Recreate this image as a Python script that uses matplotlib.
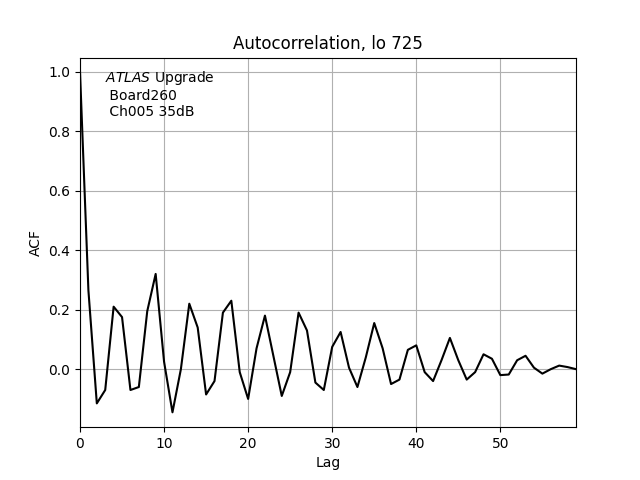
import matplotlib
matplotlib.use("Agg")
import matplotlib.pyplot as plt
import numpy as np

lags = list(range(60))
acf = [1.0, 0.265, -0.115, -0.07, 0.21, 0.175, -0.07, -0.06, 0.195, 0.32,
       0.025, -0.145, 0.0, 0.22, 0.14, -0.085, -0.04, 0.19, 0.23, -0.01,
       -0.10, 0.07, 0.18, 0.045, -0.09, -0.01, 0.19, 0.13, -0.045, -0.07,
       0.075, 0.125, 0.005, -0.06, 0.04, 0.155, 0.07, -0.05, -0.035, 0.065,
       0.08, -0.01, -0.04, 0.03, 0.105, 0.03, -0.035, -0.01, 0.05, 0.035,
       -0.02, -0.018, 0.03, 0.045, 0.005, -0.015, 0.0, 0.012, 0.007, 0.0]

fig, ax = plt.subplots(figsize=(6.4, 4.8), dpi=100)
ax.plot(lags, acf, color='black')
ax.set_xlim(0, 59)
ax.set_ylim(-0.195, 1.047)
ax.grid(True)
ax.set_title('Autocorrelation, lo 725')
ax.set_xlabel('Lag')
ax.set_ylabel('ACF')
ax.text(0.05, 0.97, '$ATLAS$ Upgrade\n Board260\n Ch005 35dB', transform=ax.transAxes, va='top', ha='left')
fig.savefig('out.png')
